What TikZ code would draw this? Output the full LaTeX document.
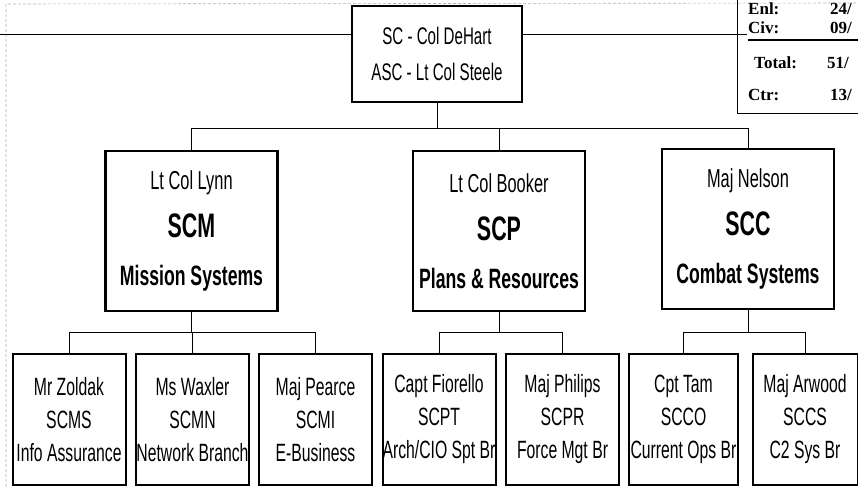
\documentclass[tikz,border=0pt]{standalone}
\usepackage{fontspec}
\setmainfont{Liberation Sans}[FakeStretch=0.63]
\newfontfamily\tabfont{Liberation Serif}
\usetikzlibrary{positioning}
\tikzset{
    head/.style={draw, line width=2pt, minimum width=170pt, minimum height=95pt, align=center, inner sep=0pt, font=\fontsize{24}{36}\selectfont}, % the commander
    division/.style={draw, line width=2.5pt, minimum width=172pt, minimum height=160pt, align=center, inner sep=0pt, font=\fontsize{26}{48}\selectfont},
    branch/.style={draw, line width=2pt, minimum width=113pt, minimum height=131pt, align=center, inner sep=0pt, font=\fontsize{25}{33}\selectfont},
    link/.style={line width=1pt},
    tabtext/.style={font=\tabfont\bfseries\fontsize{17}{17}\selectfont, anchor=base west, inner sep=0pt}
}

\begin{document}
\begin{tikzpicture}[x=1pt, y=-1pt]
        \useasboundingbox (0,0) rectangle (858,487);

        % faint frame of the page
        \draw[gray!60, densely dashed, line width=0.6pt] (6,487) -- (6,4) -- (858,3);

        \node[head] (sc) at (437,54) {SC - Col DeHart\\ASC - Lt Col Steele};

        \node[division] (scm) at (191.5,231) {Lt Col Lynn\\{\bfseries\fontsize{34}{40}\selectfont SCM}\\{\bfseries\fontsize{28}{40}\selectfont Mission Systems}};
        \node[division] (scp) at (499,231) {Lt Col Booker\\{\bfseries\fontsize{34}{40}\selectfont SCP}\\{\bfseries\fontsize{28}{40}\selectfont Plans \& Resources}};
        \node[division] (scc) at (748,229) {Maj Nelson\\{\bfseries\fontsize{34}{40}\selectfont SCC}\\{\bfseries\fontsize{28}{40}\selectfont Combat Systems}};

        \node[branch] (scms) at (69,419.5) {Mr Zoldak\\SCMS\\Info Assurance};
        \node[branch] (scmn) at (192.5,419.5) {Ms Waxler\\SCMN\\Network Branch};
        \node[branch] (scmi) at (315.5,419.5) {Maj Pearce\\SCMI\\E-Business};
        \node[branch] (scpt) at (439,419.5) {Capt Fiorello\\SCPT\\Arch/CIO Spt Br};
        \node[branch] (scpr) at (562.5,419.5) {Maj Philips\\SCPR\\Force Mgt Br};
        \node[branch, minimum width=109pt] (scco) at (683.5,419.5) {Cpt Tam\\SCCO\\Current Ops Br};
        \node[branch, minimum width=105pt] (sccs) at (805,419.5) {Maj Arwood\\SCCS\\C2 Sys Br};

        % strength table, top right
        \coordinate (tabtop) at (737,0);
        \coordinate (tabcorner) at (737,113);
        \coordinate (tabright) at (858,113);
        \draw[link] (tabtop) -- (tabcorner) -- (tabright);
        \node[tabtext] (enl) at (748,15) {Enl:};
        \node[tabtext] (enlv) at (830,15) {24/};
        \node[tabtext] (civ) at (748,34) {Civ:};
        \node[tabtext] (civv) at (830,34) {09/};
        \draw[line width=1.5pt] (civ.base west) ++(0,6) coordinate (civline) -- (civline -| tabright);
        \node[tabtext] (tot) at (754,68) {Total:};
        \node[tabtext] (totv) at (827,68) {51/};
        \node[tabtext] (ctr) at (748,100) {Ctr:};
        \node[tabtext] (ctrv) at (830,100) {13/};

        % line through the commander
        \coordinate (rowleft) at (0,35);
        \coordinate (rowright) at (747,35);
        \draw[link] (rowleft) -- (sc.west |- rowleft);
        \draw[link] (sc.east |- rowright) -- (rowright);

        % tree
        \coordinate (topbar) at (0,128);
        \coordinate (lowbar) at (0,332);
        \draw[link] (sc.south) -- (sc.south |- topbar);
        \draw[link] (scm.north) -- (scm.north |- topbar) -| (scc.north);
        \draw[link] (scp.north) -- (scp.north |- topbar);

        \draw[link] (scm.south) -- (scm.south |- lowbar);
        \draw[link] (scms.north) -- (scms.north |- lowbar) -| (scmi.north);
        \draw[link] (scmn.north) -- (scmn.north |- lowbar);

        \draw[link] (scp.south) -- (scp.south |- lowbar);
        \draw[link] (scpt.north) -- (scpt.north |- lowbar) -| (scpr.north);

        \draw[link] (scc.south) -- (scc.south |- lowbar);
        \draw[link] (scco.north) -- (scco.north |- lowbar) -| (sccs.north);
    \end{tikzpicture}
\end{document}
